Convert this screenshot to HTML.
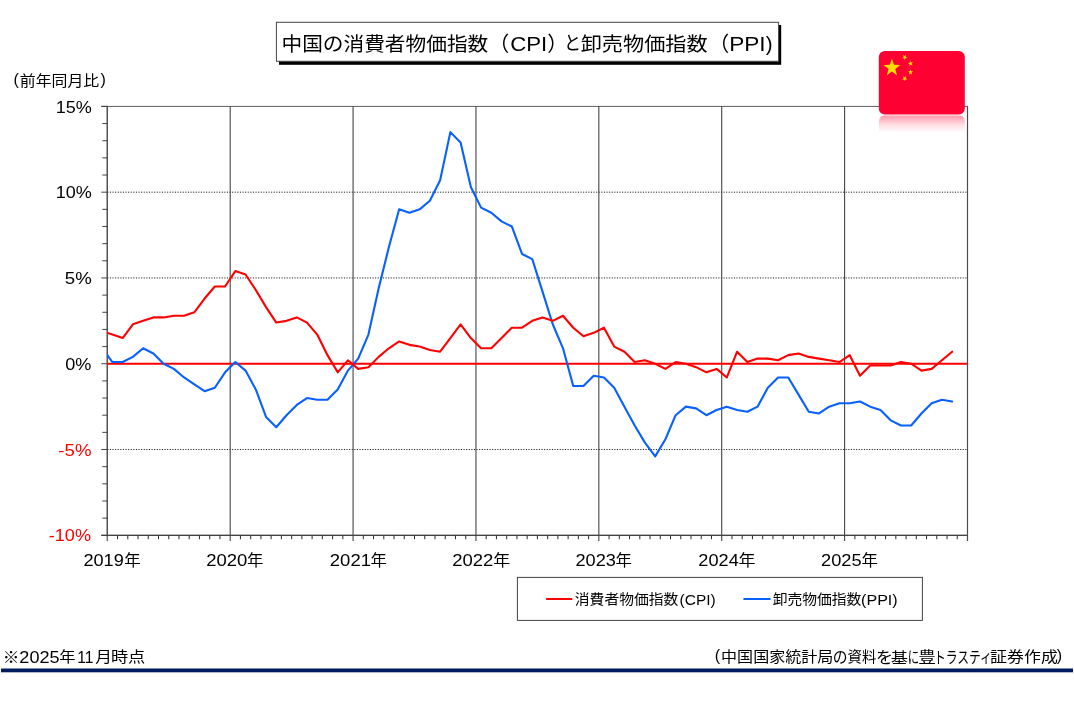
<!DOCTYPE html>
<html lang="ja"><head><meta charset="utf-8"><title>中国の消費者物価指数（CPI）と卸売物価指数（PPI)</title>
<style>
html,body{margin:0;padding:0;background:#fff;}
body{width:1074px;height:707px;overflow:hidden;position:relative;font-family:"Liberation Sans", "Noto Sans CJK JP", sans-serif;}
svg{position:absolute;left:0;top:0;display:block;}
text{font-family:"Liberation Sans", "Noto Sans CJK JP", sans-serif;fill:#000;}
.red{fill:#ff0000;}
</style></head><body>
<svg width="1074" height="707" viewBox="0 0 1074 707">
<defs>
<clipPath id="plot"><rect x="107.3" y="104.4" width="860.2" height="432.9"/></clipPath>
<linearGradient id="refl" x1="0" y1="0" x2="0" y2="1">
<stop offset="0" stop-color="#ff0033" stop-opacity="0.4"/>
<stop offset="0.55" stop-color="#ff0033" stop-opacity="0.13"/>
<stop offset="1" stop-color="#ff0033" stop-opacity="0"/>
</linearGradient>
</defs>

<rect x="279" y="25" width="502.2" height="39.8" fill="#000"/>
<rect x="276.4" y="22.3" width="502.2" height="39" fill="#fff" stroke="#444" stroke-width="1"/>
<rect x="107.3" y="106.4" width="860.2" height="428.9" fill="#fff" stroke="#606060" stroke-width="1"/>
<line x1="107.3" y1="192.18" x2="967.5" y2="192.18" stroke="#1a1a1a" stroke-width="1" stroke-dasharray="1.1,1.5"/>
<line x1="107.3" y1="277.96" x2="967.5" y2="277.96" stroke="#1a1a1a" stroke-width="1" stroke-dasharray="1.1,1.5"/>
<line x1="107.3" y1="449.52" x2="967.5" y2="449.52" stroke="#1a1a1a" stroke-width="1" stroke-dasharray="1.1,1.5"/>
<line x1="230.19" y1="106.4" x2="230.19" y2="540.90" stroke="#3c3c3c" stroke-width="1.05"/>
<line x1="353.07" y1="106.4" x2="353.07" y2="540.90" stroke="#3c3c3c" stroke-width="1.05"/>
<line x1="475.96" y1="106.4" x2="475.96" y2="540.90" stroke="#3c3c3c" stroke-width="1.05"/>
<line x1="598.84" y1="106.4" x2="598.84" y2="540.90" stroke="#3c3c3c" stroke-width="1.05"/>
<line x1="721.73" y1="106.4" x2="721.73" y2="540.90" stroke="#3c3c3c" stroke-width="1.05"/>
<line x1="844.61" y1="106.4" x2="844.61" y2="540.90" stroke="#3c3c3c" stroke-width="1.05"/>
<line x1="107.2" y1="106.4" x2="107.2" y2="540.90" stroke="#444" stroke-width="1.1"/>
<line x1="967.5" y1="106.4" x2="967.5" y2="540.90" stroke="#4a4a4a" stroke-width="1.1"/>
<line x1="101.3" y1="535.3" x2="967.5" y2="535.3" stroke="#444" stroke-width="1.2"/>
<line x1="101.3" y1="106.4" x2="107.3" y2="106.4" stroke="#444" stroke-width="1.1"/>
<line x1="101.3" y1="535.30" x2="107.3" y2="535.30" stroke="#444" stroke-width="1"/>
<line x1="102.3" y1="518.14" x2="107.3" y2="518.14" stroke="#444" stroke-width="1"/>
<line x1="102.3" y1="500.99" x2="107.3" y2="500.99" stroke="#444" stroke-width="1"/>
<line x1="102.3" y1="483.83" x2="107.3" y2="483.83" stroke="#444" stroke-width="1"/>
<line x1="102.3" y1="466.68" x2="107.3" y2="466.68" stroke="#444" stroke-width="1"/>
<line x1="101.3" y1="449.52" x2="107.3" y2="449.52" stroke="#444" stroke-width="1"/>
<line x1="102.3" y1="432.36" x2="107.3" y2="432.36" stroke="#444" stroke-width="1"/>
<line x1="102.3" y1="415.21" x2="107.3" y2="415.21" stroke="#444" stroke-width="1"/>
<line x1="102.3" y1="398.05" x2="107.3" y2="398.05" stroke="#444" stroke-width="1"/>
<line x1="102.3" y1="380.90" x2="107.3" y2="380.90" stroke="#444" stroke-width="1"/>
<line x1="101.3" y1="363.74" x2="107.3" y2="363.74" stroke="#444" stroke-width="1"/>
<line x1="102.3" y1="346.58" x2="107.3" y2="346.58" stroke="#444" stroke-width="1"/>
<line x1="102.3" y1="329.43" x2="107.3" y2="329.43" stroke="#444" stroke-width="1"/>
<line x1="102.3" y1="312.27" x2="107.3" y2="312.27" stroke="#444" stroke-width="1"/>
<line x1="102.3" y1="295.12" x2="107.3" y2="295.12" stroke="#444" stroke-width="1"/>
<line x1="101.3" y1="277.96" x2="107.3" y2="277.96" stroke="#444" stroke-width="1"/>
<line x1="102.3" y1="260.80" x2="107.3" y2="260.80" stroke="#444" stroke-width="1"/>
<line x1="102.3" y1="243.65" x2="107.3" y2="243.65" stroke="#444" stroke-width="1"/>
<line x1="102.3" y1="226.49" x2="107.3" y2="226.49" stroke="#444" stroke-width="1"/>
<line x1="102.3" y1="209.34" x2="107.3" y2="209.34" stroke="#444" stroke-width="1"/>
<line x1="101.3" y1="192.18" x2="107.3" y2="192.18" stroke="#444" stroke-width="1"/>
<line x1="102.3" y1="175.02" x2="107.3" y2="175.02" stroke="#444" stroke-width="1"/>
<line x1="102.3" y1="157.87" x2="107.3" y2="157.87" stroke="#444" stroke-width="1"/>
<line x1="102.3" y1="140.71" x2="107.3" y2="140.71" stroke="#444" stroke-width="1"/>
<line x1="102.3" y1="123.56" x2="107.3" y2="123.56" stroke="#444" stroke-width="1"/>
<line x1="101.3" y1="106.40" x2="107.3" y2="106.40" stroke="#444" stroke-width="1"/>
<line x1="117.54" y1="535.3" x2="117.54" y2="539.20" stroke="#333" stroke-width="1.05"/>
<line x1="127.78" y1="535.3" x2="127.78" y2="539.20" stroke="#333" stroke-width="1.05"/>
<line x1="138.02" y1="535.3" x2="138.02" y2="539.20" stroke="#333" stroke-width="1.05"/>
<line x1="148.26" y1="535.3" x2="148.26" y2="539.20" stroke="#333" stroke-width="1.05"/>
<line x1="158.50" y1="535.3" x2="158.50" y2="539.20" stroke="#333" stroke-width="1.05"/>
<line x1="168.74" y1="535.3" x2="168.74" y2="539.20" stroke="#333" stroke-width="1.05"/>
<line x1="178.98" y1="535.3" x2="178.98" y2="539.20" stroke="#333" stroke-width="1.05"/>
<line x1="189.22" y1="535.3" x2="189.22" y2="539.20" stroke="#333" stroke-width="1.05"/>
<line x1="199.46" y1="535.3" x2="199.46" y2="539.20" stroke="#333" stroke-width="1.05"/>
<line x1="209.70" y1="535.3" x2="209.70" y2="539.20" stroke="#333" stroke-width="1.05"/>
<line x1="219.95" y1="535.3" x2="219.95" y2="539.20" stroke="#333" stroke-width="1.05"/>
<line x1="240.43" y1="535.3" x2="240.43" y2="539.20" stroke="#333" stroke-width="1.05"/>
<line x1="250.67" y1="535.3" x2="250.67" y2="539.20" stroke="#333" stroke-width="1.05"/>
<line x1="260.91" y1="535.3" x2="260.91" y2="539.20" stroke="#333" stroke-width="1.05"/>
<line x1="271.15" y1="535.3" x2="271.15" y2="539.20" stroke="#333" stroke-width="1.05"/>
<line x1="281.39" y1="535.3" x2="281.39" y2="539.20" stroke="#333" stroke-width="1.05"/>
<line x1="291.63" y1="535.3" x2="291.63" y2="539.20" stroke="#333" stroke-width="1.05"/>
<line x1="301.87" y1="535.3" x2="301.87" y2="539.20" stroke="#333" stroke-width="1.05"/>
<line x1="312.11" y1="535.3" x2="312.11" y2="539.20" stroke="#333" stroke-width="1.05"/>
<line x1="322.35" y1="535.3" x2="322.35" y2="539.20" stroke="#333" stroke-width="1.05"/>
<line x1="332.59" y1="535.3" x2="332.59" y2="539.20" stroke="#333" stroke-width="1.05"/>
<line x1="342.83" y1="535.3" x2="342.83" y2="539.20" stroke="#333" stroke-width="1.05"/>
<line x1="363.31" y1="535.3" x2="363.31" y2="539.20" stroke="#333" stroke-width="1.05"/>
<line x1="373.55" y1="535.3" x2="373.55" y2="539.20" stroke="#333" stroke-width="1.05"/>
<line x1="383.79" y1="535.3" x2="383.79" y2="539.20" stroke="#333" stroke-width="1.05"/>
<line x1="394.03" y1="535.3" x2="394.03" y2="539.20" stroke="#333" stroke-width="1.05"/>
<line x1="404.27" y1="535.3" x2="404.27" y2="539.20" stroke="#333" stroke-width="1.05"/>
<line x1="414.51" y1="535.3" x2="414.51" y2="539.20" stroke="#333" stroke-width="1.05"/>
<line x1="424.75" y1="535.3" x2="424.75" y2="539.20" stroke="#333" stroke-width="1.05"/>
<line x1="435.00" y1="535.3" x2="435.00" y2="539.20" stroke="#333" stroke-width="1.05"/>
<line x1="445.24" y1="535.3" x2="445.24" y2="539.20" stroke="#333" stroke-width="1.05"/>
<line x1="455.48" y1="535.3" x2="455.48" y2="539.20" stroke="#333" stroke-width="1.05"/>
<line x1="465.72" y1="535.3" x2="465.72" y2="539.20" stroke="#333" stroke-width="1.05"/>
<line x1="486.20" y1="535.3" x2="486.20" y2="539.20" stroke="#333" stroke-width="1.05"/>
<line x1="496.44" y1="535.3" x2="496.44" y2="539.20" stroke="#333" stroke-width="1.05"/>
<line x1="506.68" y1="535.3" x2="506.68" y2="539.20" stroke="#333" stroke-width="1.05"/>
<line x1="516.92" y1="535.3" x2="516.92" y2="539.20" stroke="#333" stroke-width="1.05"/>
<line x1="527.16" y1="535.3" x2="527.16" y2="539.20" stroke="#333" stroke-width="1.05"/>
<line x1="537.40" y1="535.3" x2="537.40" y2="539.20" stroke="#333" stroke-width="1.05"/>
<line x1="547.64" y1="535.3" x2="547.64" y2="539.20" stroke="#333" stroke-width="1.05"/>
<line x1="557.88" y1="535.3" x2="557.88" y2="539.20" stroke="#333" stroke-width="1.05"/>
<line x1="568.12" y1="535.3" x2="568.12" y2="539.20" stroke="#333" stroke-width="1.05"/>
<line x1="578.36" y1="535.3" x2="578.36" y2="539.20" stroke="#333" stroke-width="1.05"/>
<line x1="588.60" y1="535.3" x2="588.60" y2="539.20" stroke="#333" stroke-width="1.05"/>
<line x1="609.08" y1="535.3" x2="609.08" y2="539.20" stroke="#333" stroke-width="1.05"/>
<line x1="619.32" y1="535.3" x2="619.32" y2="539.20" stroke="#333" stroke-width="1.05"/>
<line x1="629.56" y1="535.3" x2="629.56" y2="539.20" stroke="#333" stroke-width="1.05"/>
<line x1="639.80" y1="535.3" x2="639.80" y2="539.20" stroke="#333" stroke-width="1.05"/>
<line x1="650.05" y1="535.3" x2="650.05" y2="539.20" stroke="#333" stroke-width="1.05"/>
<line x1="660.29" y1="535.3" x2="660.29" y2="539.20" stroke="#333" stroke-width="1.05"/>
<line x1="670.53" y1="535.3" x2="670.53" y2="539.20" stroke="#333" stroke-width="1.05"/>
<line x1="680.77" y1="535.3" x2="680.77" y2="539.20" stroke="#333" stroke-width="1.05"/>
<line x1="691.01" y1="535.3" x2="691.01" y2="539.20" stroke="#333" stroke-width="1.05"/>
<line x1="701.25" y1="535.3" x2="701.25" y2="539.20" stroke="#333" stroke-width="1.05"/>
<line x1="711.49" y1="535.3" x2="711.49" y2="539.20" stroke="#333" stroke-width="1.05"/>
<line x1="731.97" y1="535.3" x2="731.97" y2="539.20" stroke="#333" stroke-width="1.05"/>
<line x1="742.21" y1="535.3" x2="742.21" y2="539.20" stroke="#333" stroke-width="1.05"/>
<line x1="752.45" y1="535.3" x2="752.45" y2="539.20" stroke="#333" stroke-width="1.05"/>
<line x1="762.69" y1="535.3" x2="762.69" y2="539.20" stroke="#333" stroke-width="1.05"/>
<line x1="772.93" y1="535.3" x2="772.93" y2="539.20" stroke="#333" stroke-width="1.05"/>
<line x1="783.17" y1="535.3" x2="783.17" y2="539.20" stroke="#333" stroke-width="1.05"/>
<line x1="793.41" y1="535.3" x2="793.41" y2="539.20" stroke="#333" stroke-width="1.05"/>
<line x1="803.65" y1="535.3" x2="803.65" y2="539.20" stroke="#333" stroke-width="1.05"/>
<line x1="813.89" y1="535.3" x2="813.89" y2="539.20" stroke="#333" stroke-width="1.05"/>
<line x1="824.13" y1="535.3" x2="824.13" y2="539.20" stroke="#333" stroke-width="1.05"/>
<line x1="834.37" y1="535.3" x2="834.37" y2="539.20" stroke="#333" stroke-width="1.05"/>
<line x1="854.85" y1="535.3" x2="854.85" y2="539.20" stroke="#333" stroke-width="1.05"/>
<line x1="865.10" y1="535.3" x2="865.10" y2="539.20" stroke="#333" stroke-width="1.05"/>
<line x1="875.34" y1="535.3" x2="875.34" y2="539.20" stroke="#333" stroke-width="1.05"/>
<line x1="885.58" y1="535.3" x2="885.58" y2="539.20" stroke="#333" stroke-width="1.05"/>
<line x1="895.82" y1="535.3" x2="895.82" y2="539.20" stroke="#333" stroke-width="1.05"/>
<line x1="906.06" y1="535.3" x2="906.06" y2="539.20" stroke="#333" stroke-width="1.05"/>
<line x1="916.30" y1="535.3" x2="916.30" y2="539.20" stroke="#333" stroke-width="1.05"/>
<line x1="926.54" y1="535.3" x2="926.54" y2="539.20" stroke="#333" stroke-width="1.05"/>
<line x1="936.78" y1="535.3" x2="936.78" y2="539.20" stroke="#333" stroke-width="1.05"/>
<line x1="947.02" y1="535.3" x2="947.02" y2="539.20" stroke="#333" stroke-width="1.05"/>
<line x1="957.26" y1="535.3" x2="957.26" y2="539.20" stroke="#333" stroke-width="1.05"/>
<line x1="107.3" y1="363.74" x2="967.5" y2="363.74" stroke="#ff0000" stroke-width="2.1"/>
<line x1="967.5" y1="106.4" x2="967.5" y2="540.90" stroke="#4a4a4a" stroke-width="1.1"/>
<g clip-path="url(#plot)" fill="none" stroke-linejoin="round" stroke-linecap="round" stroke-width="2.1">
<polyline points="102.18,348.30 112.42,362.02 122.66,362.02 132.90,356.88 143.14,348.30 153.38,353.45 163.62,363.74 173.86,368.89 184.10,377.46 194.34,384.33 204.58,391.19 214.82,387.76 225.07,372.32 235.31,362.02 245.55,370.60 255.79,389.47 266.03,416.92 276.27,427.22 286.51,415.21 296.75,404.91 306.99,398.05 317.23,399.77 327.47,399.77 337.71,389.47 347.95,370.60 358.19,358.59 368.43,334.57 378.67,288.25 388.91,247.08 399.15,209.34 409.39,212.77 419.63,209.34 429.88,200.76 440.12,180.17 450.36,132.13 460.60,142.43 470.84,187.03 481.08,207.62 491.32,212.77 501.56,221.35 511.80,226.49 522.04,253.94 532.28,259.09 542.52,291.68 552.76,324.28 563.00,348.30 573.24,386.04 583.48,386.04 593.72,375.75 603.96,377.46 614.20,387.76 624.44,406.63 634.68,425.50 644.92,442.66 655.17,456.38 665.41,439.23 675.65,415.21 685.89,406.63 696.13,408.35 706.37,415.21 716.61,410.06 726.85,406.63 737.09,410.06 747.33,411.78 757.57,406.63 767.81,387.76 778.05,377.46 788.29,377.46 798.53,394.62 808.77,411.78 819.01,413.49 829.25,406.63 839.49,403.20 849.73,403.20 859.97,401.48 870.22,406.63 880.46,410.06 890.70,420.35 900.94,425.50 911.18,425.50 921.42,413.49 931.66,403.20 941.90,399.77 952.14,401.48" stroke="#0860ff"/>
<polyline points="102.18,331.14 112.42,334.57 122.66,338.01 132.90,324.28 143.14,320.85 153.38,317.42 163.62,317.42 173.86,315.70 184.10,315.70 194.34,312.27 204.58,298.55 214.82,286.54 225.07,286.54 235.31,271.10 245.55,274.53 255.79,289.97 266.03,307.13 276.27,322.57 286.51,320.85 296.75,317.42 306.99,322.57 317.23,334.57 327.47,355.16 337.71,372.32 347.95,360.31 358.19,368.89 368.43,367.17 378.67,356.88 388.91,348.30 399.15,341.44 409.39,344.87 419.63,346.58 429.88,350.02 440.12,351.73 450.36,338.01 460.60,324.28 470.84,338.01 481.08,348.30 491.32,348.30 501.56,338.01 511.80,327.71 522.04,327.71 532.28,320.85 542.52,317.42 552.76,320.85 563.00,315.70 573.24,327.71 583.48,336.29 593.72,332.86 603.96,327.71 614.20,346.58 624.44,351.73 634.68,362.02 644.92,360.31 655.17,363.74 665.41,368.89 675.65,362.02 685.89,363.74 696.13,367.17 706.37,372.32 716.61,368.89 726.85,377.46 737.09,351.73 747.33,362.02 757.57,358.59 767.81,358.59 778.05,360.31 788.29,355.16 798.53,353.45 808.77,356.88 819.01,358.59 829.25,360.31 839.49,362.02 849.73,355.16 859.97,375.75 870.22,365.46 880.46,365.46 890.70,365.46 900.94,362.02 911.18,363.74 921.42,370.60 931.66,368.89 941.90,360.31 952.14,351.73" stroke="#ff0000"/>
</g>
<rect x="517.4" y="577.4" width="405" height="43" fill="#fff" stroke="#444" stroke-width="1"/>
<line x1="546.8" y1="599.1" x2="571.5" y2="599.1" stroke="#ff0000" stroke-width="2" stroke-linecap="round"/>
<line x1="744.2" y1="599.1" x2="769.8" y2="599.1" stroke="#0860ff" stroke-width="2" stroke-linecap="round"/>
<rect x="878.8" y="51" width="86" height="63.5" rx="6" ry="6" fill="#ff0033"/>
<path d="M879 121.2 q0 -5.6 5.6 -5.6 h74.6 q5.6 0 5.6 5.6 v11.4 h-85.8 z" fill="url(#refl)"/>
<polygon points="891.90,58.38 893.97,64.75 900.27,64.89 895.25,68.96 897.07,75.42 891.90,71.57 886.73,75.42 888.55,68.96 883.53,64.89 889.83,64.75" fill="#ffde00"/>
<polygon points="906.05,54.66 905.69,56.80 907.34,57.93 905.42,58.21 904.98,60.33 904.16,58.36 902.23,58.54 903.64,57.05 902.89,55.03 904.59,56.09" fill="#ffde00"/>
<polygon points="912.94,61.97 911.67,63.63 912.61,65.54 910.82,64.69 909.50,66.29 909.66,64.11 907.91,63.18 909.80,62.68 910.04,60.52 911.04,62.39" fill="#ffde00"/>
<polygon points="910.60,69.15 911.23,71.21 913.17,71.26 911.63,72.58 912.19,74.67 910.60,73.42 909.01,74.67 909.57,72.58 908.03,71.26 909.97,71.21" fill="#ffde00"/>
<polygon points="906.05,75.86 905.69,78.00 907.34,79.13 905.42,79.41 904.98,81.53 904.16,79.56 902.23,79.74 903.64,78.25 902.89,76.23 904.59,77.29" fill="#ffde00"/>
<text><tspan x="281.50" y="50.65" font-size="19.6" textLength="206.75" lengthAdjust="spacingAndGlyphs">中国の消費者物価指数</tspan><tspan x="488.80" y="50.60" font-size="20.5">（</tspan><tspan x="510.25" y="51.10" font-size="20.5" textLength="37.05" lengthAdjust="spacingAndGlyphs">CPI</tspan><tspan x="547.20" y="50.60" font-size="20.5">）</tspan><tspan x="563.90" y="50.15" font-size="19.6" textLength="16.99" lengthAdjust="spacingAndGlyphs">と</tspan><tspan x="580.70" y="50.65" font-size="19.6" textLength="126.95" lengthAdjust="spacingAndGlyphs">卸売物価指数</tspan><tspan x="708.80" y="50.60" font-size="20.5">（</tspan><tspan x="729.15" y="51.10" font-size="20.5" textLength="36.44" lengthAdjust="spacingAndGlyphs">PPI</tspan><tspan x="765.70" y="51.10" font-size="20.5">)</tspan></text>
<text><tspan x="13.50" y="84.55" font-size="16">(</tspan><tspan x="19.80" y="85.50" font-size="15.2" textLength="79.45" lengthAdjust="spacingAndGlyphs">前年同月比</tspan><tspan x="100.50" y="84.55" font-size="16">)</tspan></text>
<text><tspan x="55.70" y="112.55" font-size="16.8" textLength="36.08" lengthAdjust="spacingAndGlyphs">15%</tspan></text>
<text><tspan x="55.70" y="198.33" font-size="16.8" textLength="36.08" lengthAdjust="spacingAndGlyphs">10%</tspan></text>
<text><tspan x="64.85" y="284.11" font-size="16.8" textLength="26.93" lengthAdjust="spacingAndGlyphs">5%</tspan></text>
<text><tspan x="65.30" y="369.89" font-size="16.8" textLength="26.19" lengthAdjust="spacingAndGlyphs">0%</tspan></text>
<text class="red"><tspan x="58.30" y="455.67" font-size="16.8" textLength="33.16" lengthAdjust="spacingAndGlyphs">-5%</tspan></text>
<text class="red"><tspan x="48.80" y="541.45" font-size="16.8" textLength="42.20" lengthAdjust="spacingAndGlyphs">-10%</tspan></text>
<text><tspan x="83.40" y="566.10" font-size="16.8" textLength="40.36" lengthAdjust="spacingAndGlyphs">2019</tspan><tspan x="124.26" y="566.30" font-size="15.6" textLength="16.44" lengthAdjust="spacingAndGlyphs">年</tspan></text>
<text><tspan x="206.27" y="566.10" font-size="16.8" textLength="41.15" lengthAdjust="spacingAndGlyphs">2020</tspan><tspan x="246.92" y="566.30" font-size="15.6" textLength="16.44" lengthAdjust="spacingAndGlyphs">年</tspan></text>
<text><tspan x="329.82" y="566.10" font-size="16.8" textLength="41.15" lengthAdjust="spacingAndGlyphs">2021</tspan><tspan x="370.59" y="566.30" font-size="15.6" textLength="16.44" lengthAdjust="spacingAndGlyphs">年</tspan></text>
<text><tspan x="452.19" y="566.10" font-size="16.8" textLength="41.12" lengthAdjust="spacingAndGlyphs">2022</tspan><tspan x="493.36" y="566.30" font-size="15.6" textLength="17.04" lengthAdjust="spacingAndGlyphs">年</tspan></text>
<text><tspan x="575.48" y="566.10" font-size="16.8" textLength="40.39" lengthAdjust="spacingAndGlyphs">2023</tspan><tspan x="615.40" y="566.30" font-size="15.6" textLength="16.44" lengthAdjust="spacingAndGlyphs">年</tspan></text>
<text><tspan x="698.35" y="566.10" font-size="16.8" textLength="40.39" lengthAdjust="spacingAndGlyphs">2024</tspan><tspan x="738.45" y="566.30" font-size="15.6" textLength="17.04" lengthAdjust="spacingAndGlyphs">年</tspan></text>
<text><tspan x="821.02" y="566.10" font-size="16.8" textLength="40.50" lengthAdjust="spacingAndGlyphs">2025</tspan><tspan x="861.42" y="566.30" font-size="15.6" textLength="16.44" lengthAdjust="spacingAndGlyphs">年</tspan></text>
<text><tspan x="574.85" y="604.20" font-size="14" textLength="103.47" lengthAdjust="spacingAndGlyphs">消費者物価指数</tspan><tspan x="679.60" y="605.20" font-size="15.2" textLength="36.19" lengthAdjust="spacingAndGlyphs">(CPI)</tspan></text>
<text><tspan x="772.65" y="604.20" font-size="14" textLength="88.72" lengthAdjust="spacingAndGlyphs">卸売物価指数</tspan><tspan x="861.05" y="605.20" font-size="15.2" textLength="36.66" lengthAdjust="spacingAndGlyphs">(PPI)</tspan></text>
<text><tspan x="2.80" y="662.75" font-size="16" textLength="16.63" lengthAdjust="spacingAndGlyphs">※</tspan><tspan x="19.35" y="662.70" font-size="16.5" textLength="40.20" lengthAdjust="spacingAndGlyphs">2025</tspan><tspan x="59.35" y="662.35" font-size="15.2" textLength="16.29" lengthAdjust="spacingAndGlyphs">年</tspan><tspan x="77.25" y="662.70" font-size="16.5" textLength="16.24" lengthAdjust="spacingAndGlyphs">11</tspan><tspan x="95.35" y="661.85" font-size="15.2" textLength="16.64" lengthAdjust="spacingAndGlyphs">月</tspan><tspan x="110.90" y="662.35" font-size="15.2" textLength="34.46" lengthAdjust="spacingAndGlyphs">時点</tspan></text>
<text><tspan x="714.80" y="661.25" font-size="16">(</tspan><tspan x="721.10" y="662.25" font-size="15.2" textLength="112.22" lengthAdjust="spacingAndGlyphs">中国国家統計局</tspan><tspan x="832.80" y="662.50" font-size="16" textLength="14.78" lengthAdjust="spacingAndGlyphs">の</tspan><tspan x="847.60" y="662.25" font-size="15.2" textLength="28.83" lengthAdjust="spacingAndGlyphs">資料</tspan><tspan x="876.05" y="663.00" font-size="16" textLength="16.92" lengthAdjust="spacingAndGlyphs">を</tspan><tspan x="890.70" y="662.75" font-size="15.2" textLength="17.18" lengthAdjust="spacingAndGlyphs">基</tspan><tspan x="907.70" y="662.50" font-size="16" textLength="11.46" lengthAdjust="spacingAndGlyphs">に</tspan><tspan x="918.30" y="662.25" font-size="15.2" textLength="17.62" lengthAdjust="spacingAndGlyphs">豊</tspan><tspan x="933.90" y="662.50" font-size="16" textLength="57.99" lengthAdjust="spacingAndGlyphs">トラスティ</tspan><tspan x="990.10" y="662.25" font-size="15.2" textLength="67.73" lengthAdjust="spacingAndGlyphs">証券作成</tspan><tspan x="1056.85" y="661.25" font-size="16">)</tspan></text>
<rect x="1" y="668.5" width="1072" height="3.8" fill="#001a5e"/>
</svg></body></html>
